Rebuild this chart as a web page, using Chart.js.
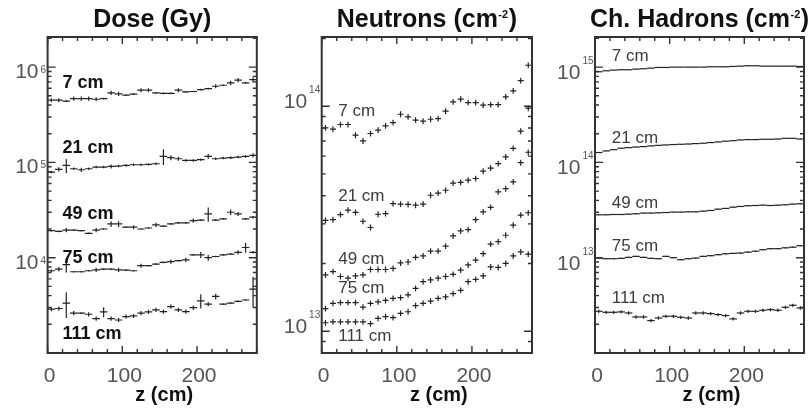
<!DOCTYPE html>
<html>
<head>
<meta charset="utf-8">
<script src="https://cdn.jsdelivr.net/npm/chart.js@4.4.0/dist/chart.umd.min.js"></script>
<style>
  body { margin: 0; background: #fff; width: 809px; height: 416px; overflow: hidden; position: relative; }
  canvas { position: absolute; top: 0; }
</style>
</head>
<body>
<canvas id="dose" width="270" height="416" style="left:0"></canvas>
<canvas id="neut" width="270" height="416" style="left:270px"></canvas>
<canvas id="chad" width="269" height="416" style="left:540px"></canvas>
<script>
// bin centres along z (cm), tick labels, depth labels
const zBins = [5, 15, 25, 35, 45, 55, 65, 75, 85, 95, 105, 115, 125, 135, 145, 155, 165, 175, 185, 195, 205, 215, 225, 235, 245, 255, 265, 275]
const xTicks = [0, 100, 200]
const depthLabels = ['7 cm', '21 cm', '49 cm', '75 cm', '111 cm']

// Dose (Gy)
const dose7 = [4.50e5, 4.50e5, 4.39e5, 4.68e5, 4.68e5, 4.68e5, 4.60e5, 4.68e5, 5.37e5, 5.25e5, 5.07e5, 5.20e5, 5.73e5, 5.73e5, 5.37e5, 5.30e5, 5.30e5, 5.73e5, 5.50e5, 5.55e5, 5.80e5, 5.95e5, 6.30e5, 6.45e5, 6.84e5, 7.30e5, 6.84e5, 7.40e5]
const dose21 = [7.91e4, 8.45e4, 9.30e4, 8.58e4, 8.37e4, 8.58e4, 8.93e4, 8.93e4, 9.07e4, 9.15e4, 9.30e4, 9.45e4, 9.45e4, 9.53e4, 9.68e4, 1.157e5, 1.12e5, 1.093e5, 1.05e5, 1.05e5, 1.067e5, 1.157e5, 1.093e5, 1.11e5, 1.12e5, 1.138e5, 1.157e5, 1.185e5]
const dose49 = [1.92e4, 1.89e4, 1.95e4, 1.95e4, 1.92e4, 1.80e4, 1.95e4, 2.00e4, 2.26e4, 2.26e4, 2.09e4, 2.09e4, 2.00e4, 2.05e4, 2.21e4, 2.14e4, 2.26e4, 2.32e4, 2.32e4, 2.45e4, 2.48e4, 2.88e4, 2.48e4, 2.55e4, 3.00e4, 2.88e4, 2.55e4, 2.66e4]
const dose75 = [7.30e3, 7.60e3, 8.44e3, 7.12e3, 7.12e3, 7.30e3, 7.45e3, 7.60e3, 7.60e3, 7.45e3, 7.40e3, 7.30e3, 8.24e3, 8.24e3, 8.58e3, 8.93e3, 9.10e3, 9.30e3, 9.50e3, 1.07e4, 1.07e4, 1.00e4, 1.03e4, 1.07e4, 1.09e4, 1.14e4, 1.28e4, 1.14e4]
const dose111 = [2.88e3, 2.93e3, 3.33e3, 2.62e3, 2.62e3, 2.55e3, 2.30e3, 2.70e3, 2.30e3, 2.22e3, 2.41e3, 2.45e3, 2.62e3, 2.70e3, 2.84e3, 2.72e3, 3.07e3, 2.84e3, 2.72e3, 3.00e3, 3.53e3, 3.25e3, 3.92e3, 3.25e3, 3.33e3, 3.48e3, 3.60e3, 4.68e3]
// relative errors of the dose points
const doseErr7 = [.05, .05, .02, .05, .05, .05, .05, .02, .05, .05, .02, .02, .05, .05, .02, .02, .02, .05, .02, .02, .02, .02, .05, .02, .05, .05, .02, .06]
const doseErr21 = [.03, .05, .17, .03, .05, .03, .03, .03, .05, .03, .03, .03, .03, .03, .03, .19, .06, .05, .03, .03, .03, .06, .03, .03, .03, .03, .03, .05]
const doseErr49 = [.02, .02, .05, .02, .02, .02, .05, .02, .07, .07, .02, .05, .02, .02, .05, .02, .02, .02, .02, .05, .02, .17, .02, .02, .07, .05, .02, .03]
const doseErr75 = [.03, .05, .17, .02, .02, .02, .05, .02, .02, .05, .02, .02, .05, .02, .02, .02, .05, .02, .05, .02, .07, .07, .02, .02, .02, .05, .12, .03]
const doseErr111 = [.05, .05, .30, .05, .02, .05, .05, .12, .05, .05, .05, .05, .05, .05, .05, .05, .05, .05, .05, .05, .17, .05, .07, .02, .02, .02, .02, .35]

// Neutrons (cm-2)
const neut7 = [8.01e13, 7.90e13, 8.29e13, 8.29e13, 7.43e13, 7.01e13, 7.56e13, 7.82e13, 8.18e13, 8.46e13, 9.21e13, 8.97e13, 8.67e13, 8.58e13, 8.75e13, 8.81e13, 9.50e13, 1.045e14, 1.074e14, 1.038e14, 1.038e14, 1.01e14, 1.017e14, 1.017e14, 1.10e14, 1.17e14, 1.30e14, 1.52e14]
const neut21 = [3.11e13, 3.13e13, 3.30e13, 3.45e13, 3.37e13, 3.08e13, 2.89e13, 3.31e13, 3.33e13, 3.69e13, 3.67e13, 3.66e13, 3.63e13, 3.67e13, 4.02e13, 4.11e13, 4.23e13, 4.55e13, 4.59e13, 4.69e13, 4.77e13, 5.14e13, 5.31e13, 5.56e13, 5.95e13, 6.50e13, 7.74e13, 9.80e13]
const neut49 = [1.78e13, 1.84e13, 1.75e13, 1.72e13, 1.76e13, 1.78e13, 1.88e13, 1.88e13, 1.88e13, 1.90e13, 2.01e13, 2.03e13, 2.13e13, 2.16e13, 2.27e13, 2.27e13, 2.39e13, 2.65e13, 2.79e13, 2.83e13, 3.13e13, 3.39e13, 3.55e13, 4.16e13, 4.30e13, 4.61e13, 5.61e13, 6.24e13]
const neut75 = [1.26e13, 1.33e13, 1.34e13, 1.34e13, 1.34e13, 1.28e13, 1.33e13, 1.35e13, 1.37e13, 1.40e13, 1.41e13, 1.45e13, 1.55e13, 1.66e13, 1.69e13, 1.72e13, 1.75e13, 1.79e13, 1.87e13, 1.97e13, 2.07e13, 2.21e13, 2.44e13, 2.50e13, 2.67e13, 2.96e13, 3.28e13, 3.36e13]
const neut111 = [1.09e13, 1.10e13, 1.10e13, 1.10e13, 1.10e13, 1.10e13, 1.08e13, 1.14e13, 1.16e13, 1.15e13, 1.20e13, 1.22e13, 1.30e13, 1.33e13, 1.36e13, 1.40e13, 1.42e13, 1.47e13, 1.52e13, 1.66e13, 1.70e13, 1.76e13, 1.93e13, 1.92e13, 2.00e13, 2.16e13, 2.25e13, 2.20e13]
const neutErr = [0.03, 0.03, 0.03, 0.03, 0.03]

// Charged hadrons (cm-2)
const chad7 = [8.94e14, 9.15e14, 9.30e14, 9.38e14, 9.38e14, 9.53e14, 9.61e14, 9.76e14, 9.92e14, 9.92e14, 1.0e15, 1.0e15, 1.0e15, 1.0e15, 1.0e15, 1.008e15, 1.008e15, 1.008e15, 1.016e15, 1.024e15, 1.033e15, 1.033e15, 1.024e15, 1.024e15, 1.024e15, 1.024e15, 1.024e15, 1.016e15]
const chad21 = [1.27e14, 1.32e14, 1.36e14, 1.41e14, 1.43e14, 1.45e14, 1.465e14, 1.49e14, 1.51e14, 1.525e14, 1.54e14, 1.55e14, 1.56e14, 1.575e14, 1.59e14, 1.615e14, 1.64e14, 1.67e14, 1.69e14, 1.72e14, 1.735e14, 1.735e14, 1.75e14, 1.75e14, 1.76e14, 1.79e14, 1.79e14, 1.76e14]
const chad49 = [2.82e13, 2.82e13, 2.84e13, 2.84e13, 2.865e13, 2.89e13, 2.94e13, 2.94e13, 2.96e13, 2.98e13, 3.01e13, 3.01e13, 3.03e13, 3.03e13, 3.08e13, 3.13e13, 3.23e13, 3.29e13, 3.39e13, 3.45e13, 3.51e13, 3.53e13, 3.56e13, 3.53e13, 3.56e13, 3.59e13, 3.65e13, 3.68e13]
const chad75 = [9.92e12, 9.76e12, 9.76e12, 9.84e12, 1.008e13, 1.033e13, 1.008e13, 9.84e12, 9.76e12, 1.033e13, 1.0e13, 9.53e12, 9.76e12, 9.92e12, 1.033e13, 1.05e13, 1.075e13, 1.10e13, 1.11e13, 1.12e13, 1.144e13, 1.17e13, 1.213e13, 1.243e13, 1.243e13, 1.27e13, 1.29e13, 1.336e13]
const chad111 = [2.74e12, 2.675e12, 2.675e12, 2.70e12, 2.63e12, 2.39e12, 2.39e12, 2.19e12, 2.33e12, 2.43e12, 2.43e12, 2.37e12, 2.33e12, 2.63e12, 2.63e12, 2.59e12, 2.53e12, 2.47e12, 2.28e12, 2.63e12, 2.74e12, 2.74e12, 2.81e12, 2.85e12, 2.81e12, 3.02e12, 3.17e12, 2.97e12]
const chadErr = [0.005, 0.006, 0.01, 0.015, 0.04]

const ink = '#222'
const axisInk = '#333'
const tickGray = '#555'
const fontFam = '"Liberation Sans", Arial, Helvetica, sans-serif'

const panels = [{
  id: 'dose',
  left: 47.6, right: 13.2,
  yMin: 1e3, yMax: 2.07e6,
  title: ['Dose (Gy)', '', ''],
  series: [dose7, dose21, dose49, dose75, dose111],
  errors: [doseErr7, doseErr21, doseErr49, doseErr75, doseErr111],
  halfBar: 3.77,
  labelZ: 20, labelAt: [7e5, 1.45e5, 2.94e4, 1.01e4, 1.62e3],
  labelFont: 'bold 18px ', labelColor: '#111',
  expBase: 11, expRaise: 5
}, {
  id: 'neut',
  left: 51.7, right: 8,
  yMin: 8e12, yMax: 2.03e14,
  title: ['Neutrons (cm', '-2', ')'],
  series: [neut7, neut21, neut49, neut75, neut111],
  errors: neutErr,
  halfBar: 3,
  labelZ: 22, labelAt: [9.6e13, 4.02e13, 2.11e13, 1.57e13, 9.6e12],
  labelFont: '17px ', labelColor: '#3c3c3c',
  expBase: 2, expRaise: 15
}, {
  id: 'chad',
  left: 55, right: 3,
  yMin: 1e12, yMax: 2.07e15,
  title: ['Ch. Hadrons (cm', '-2', ')'],
  series: [chad7, chad21, chad49, chad75, chad111],
  errors: chadErr,
  halfBar: 3.78,
  labelZ: 22.5, labelAt: [1.34e15, 1.85e14, 3.86e13, 1.37e13, 3.91e12],
  labelFont: '17px ', labelColor: '#3c3c3c',
  expBase: 12, expRaise: 15
}]

function overlay(p) {
  return {
    id: 'overlay',
    afterDatasetsDraw(chart) {
      const ctx = chart.ctx
      const y = chart.scales.y
      ctx.save()
      ctx.strokeStyle = ink
      ctx.lineWidth = 1.2
      chart.data.datasets.forEach((ds, i) => {
        const meta = chart.getDatasetMeta(i)
        ctx.beginPath()
        meta.data.forEach((pt, j) => {
          const v = ds.data[j].y
          const e = Array.isArray(ds.errors) ? ds.errors[j] : ds.errors
          ctx.moveTo(pt.x, y.getPixelForValue(v * (1 + e)))
          ctx.lineTo(pt.x, y.getPixelForValue(v * (1 - e)))
        })
        ctx.stroke()
      })
      ctx.restore()
    },
    afterDraw(chart) {
      const ctx = chart.ctx
      const a = chart.chartArea
      const x = chart.scales.x
      const y = chart.scales.y
      ctx.save()

      // inward ticks
      ctx.strokeStyle = axisInk
      ctx.lineWidth = 1.4
      ctx.beginPath()
      const k0 = Math.floor(Math.log10(p.yMin))
      const k1 = Math.ceil(Math.log10(p.yMax))
      for (let k = k0; k <= k1; k++) {
        for (let m = 1; m <= 9; m++) {
          const v = m * Math.pow(10, k)
          if (v < p.yMin * 0.999 || v > p.yMax * 1.001) continue
          const py = y.getPixelForValue(v)
          const len = m === 1 ? 8 : 4
          ctx.moveTo(a.left, py); ctx.lineTo(a.left + len, py)
          ctx.moveTo(a.right, py); ctx.lineTo(a.right - len, py)
        }
      }
      for (let v = 0; v <= 280; v += 20) {
        const px = x.getPixelForValue(v)
        const len = v % 100 === 0 ? 7 : 4
        ctx.moveTo(px, a.bottom); ctx.lineTo(px, a.bottom - len)
        ctx.moveTo(px, a.top); ctx.lineTo(px, a.top + len)
      }
      ctx.stroke()

      // frame
      ctx.lineWidth = 2
      ctx.strokeRect(a.left, a.top, a.right - a.left, a.bottom - a.top)

      // y decade labels (not at the frame corners)
      ctx.fillStyle = tickGray
      for (let k = k0; k <= k1; k++) {
        const v = Math.pow(10, k)
        if (v < p.yMin * 1.1 || v > p.yMax / 1.1) continue
        const py = y.getPixelForValue(v)
        const base = py + p.expBase
        ctx.font = '10px ' + fontFam
        ctx.textAlign = 'right'
        ctx.textBaseline = 'alphabetic'
        const supRight = a.left - 1.5
        ctx.fillText(String(k), supRight, base - p.expRaise)
        const supW = ctx.measureText(String(k)).width
        ctx.font = '21px ' + fontFam
        ctx.fillText('10', supRight - supW - 2, base)
      }

      // x tick labels
      ctx.font = '21px ' + fontFam
      ctx.textAlign = 'center'
      xTicks.forEach(v => {
        ctx.fillText(String(v), x.getPixelForValue(v) + 2, 382)
      })

      // x axis title
      ctx.fillStyle = '#111'
      ctx.font = 'bold 20px ' + fontFam
      ctx.fillText('z (cm)', (a.left + a.right) / 2 + 12, 401)

      // panel title with superscript
      const [main, sup, tail] = p.title
      ctx.font = 'bold 25px ' + fontFam
      const wMain = ctx.measureText(main).width
      const wTail = ctx.measureText(tail).width
      ctx.font = 'bold 11px ' + fontFam
      const wSup = sup ? ctx.measureText(sup).width + 1 : 0
      let tx = (a.left + a.right) / 2 - (wMain + wSup + wTail) / 2
      ctx.textAlign = 'left'
      ctx.font = 'bold 25px ' + fontFam
      ctx.fillText(main, tx, 27)
      tx += wMain
      if (sup) {
        ctx.font = 'bold 11px ' + fontFam
        ctx.fillText(sup, tx + 0.5, 18)
        tx += wSup
        ctx.font = 'bold 25px ' + fontFam
      }
      ctx.fillText(tail, tx, 27)

      // depth labels
      ctx.fillStyle = p.labelColor
      ctx.font = p.labelFont + fontFam
      const lx = x.getPixelForValue(p.labelZ)
      depthLabels.forEach((t, i) => {
        const ly = y.getPixelForValue(p.labelAt[i])
        ctx.fillText(t, lx, ly + 6)
      })
      ctx.restore()
    }
  }
}

function makePanel(p) {
  const datasets = p.series.map((vals, i) => ({
    label: depthLabels[i],
    data: zBins.map((z, j) => ({ x: z, y: vals[j] })),
    errors: p.errors[i],
    showLine: false,
    pointStyle: 'line',
    pointRadius: p.halfBar,
    pointHoverRadius: p.halfBar,
    pointBorderColor: ink,
    pointBorderWidth: 1.2
  }))
  return new Chart(document.getElementById(p.id), {
    type: 'scatter',
    data: { datasets },
    options: {
      responsive: false,
      animation: false,
      events: [],
      layout: { padding: { left: p.left, right: p.right, top: 37, bottom: 63 } },
      plugins: { legend: { display: false }, tooltip: { enabled: false } },
      scales: {
        x: { type: 'linear', min: 0, max: 280, display: false },
        y: { type: 'logarithmic', min: p.yMin, max: p.yMax, display: false }
      }
    },
    plugins: [overlay(p)]
  })
}

panels.forEach(makePanel)
</script>
</body>
</html>
